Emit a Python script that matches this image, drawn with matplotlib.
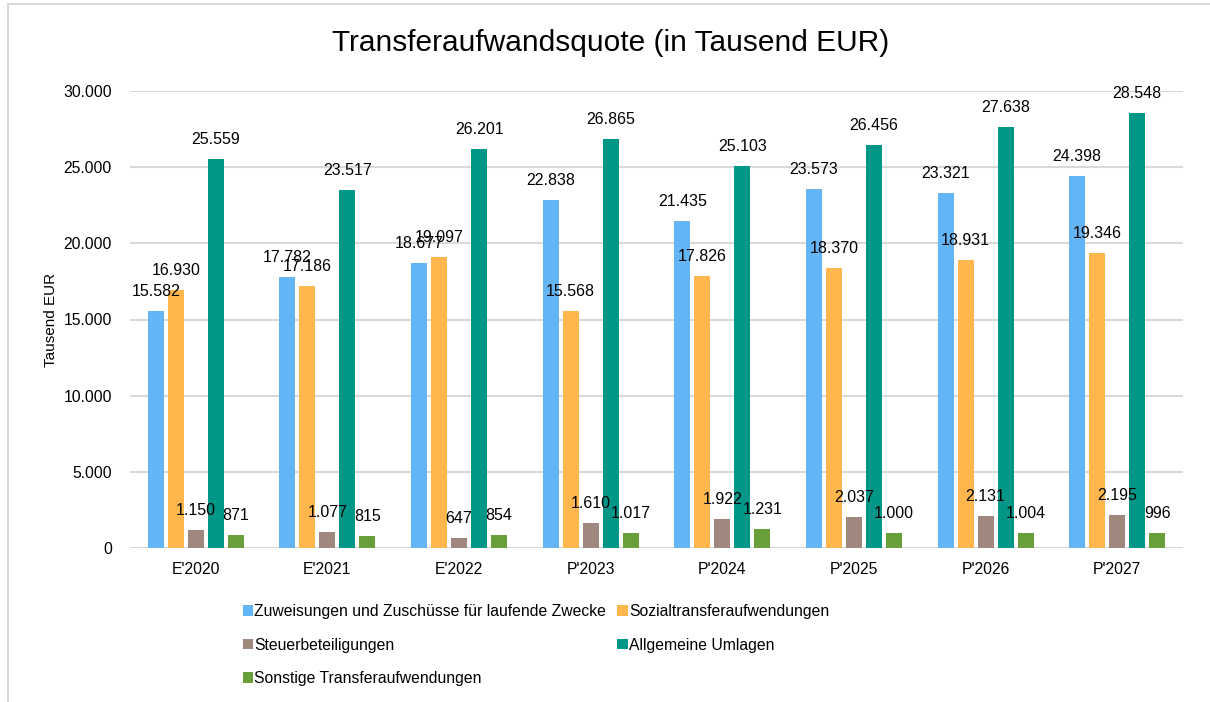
import matplotlib
matplotlib.use("Agg")
import matplotlib.pyplot as plt
from matplotlib.patches import Rectangle
import numpy as np

plt.rcParams['font.family'] = ['Liberation Sans', 'DejaVu Sans']

# Data
years = ["E'2020", "E'2021", "E'2022", "P'2023", "P'2024", "P'2025", "P'2026", "P'2027"]
series_names = [
    "Zuweisungen und Zuschüsse für laufende Zwecke",
    "Sozialtransferaufwendungen",
    "Steuerbeteiligungen",
    "Allgemeine Umlagen",
    "Sonstige Transferaufwendungen",
]
zuweisungen = [15582, 17782, 18677, 22838, 21435, 23573, 23321, 24398]
sozial = [16930, 17186, 19097, 15568, 17826, 18370, 18931, 19346]
steuer = [1150, 1077, 647, 1610, 1922, 2037, 2131, 2195]
umlagen = [25559, 23517, 26201, 26865, 25103, 26456, 27638, 28548]
sonstige = [871, 815, 854, 1017, 1231, 1000, 1004, 996]
colors = ["#64B5F6", "#FFB74D", "#A1887F", "#009688", "#689F38"]

all_series = [zuweisungen, sozial, steuer, umlagen, sonstige]


def de_fmt(v):
    return f"{v:,.0f}".replace(",", ".")


fig = plt.figure(figsize=(12.1, 7.02), dpi=100)
ax = fig.add_axes([130 / 1210, 1 - 548 / 702, (1183 - 130) / 1210, (548 - 91) / 702])

x = np.arange(len(years))
slot = 0.152
width = 0.122
handles = []
for i, (vals, name, col) in enumerate(zip(all_series, series_names, colors)):
    pos = x + (i - 2) * slot
    bars = ax.bar(pos, vals, width=width, color=col, label=name, zorder=3)
    handles.append(bars)
    for xp, v in zip(pos, vals):
        ax.annotate(de_fmt(v), (xp, v), xytext=(0, 12), textcoords='offset pixels',
                    ha='center', va='bottom', fontsize=11.5, color='black', zorder=4)

ax.set_xlim(-0.5, len(years) - 0.5)
ax.set_ylim(0, 30000)
ax.set_yticks(np.arange(0, 30001, 5000))
ax.set_yticklabels([de_fmt(v) for v in np.arange(0, 30001, 5000)])
ax.set_xticks(x)
ax.set_xticklabels(years)
ax.tick_params(axis='both', length=0, labelsize=11.3, colors='black')
ax.tick_params(axis='y', pad=13)
ax.tick_params(axis='x', pad=10)
ax.grid(axis='y', color='#D9D9D9', linewidth=1.5, zorder=0)
for s in ax.spines.values():
    s.set_visible(False)
ax.set_ylabel("Tausend EUR", fontsize=11, labelpad=4)

fig.text(0.505, 1 - 43 / 702, "Transferaufwandsquote (in Tausend EUR)", ha='center', va='center',
         fontsize=21.5)

# legend: row-major order in 2 columns
order = [0, 2, 4, 1, 3]
fig.legend([handles[k] for k in order], [series_names[k] for k in order],
           ncol=2, loc='upper left', bbox_to_anchor=(243 / 1210, 1 - 604 / 702),
           frameon=False, fontsize=11.3, handlelength=0.65, handleheight=0.65,
           handletextpad=0.08, columnspacing=0.7, labelspacing=1.18, borderaxespad=0,
           borderpad=0)

# outer frame
fig.patches.append(Rectangle((8 / 1210, -0.1), 1.2, 1 - 4 / 702 + 0.1, transform=fig.transFigure,
                             fill=False, edgecolor='#D9D9D9', linewidth=1.5))

fig.savefig("out.png", dpi=100)
